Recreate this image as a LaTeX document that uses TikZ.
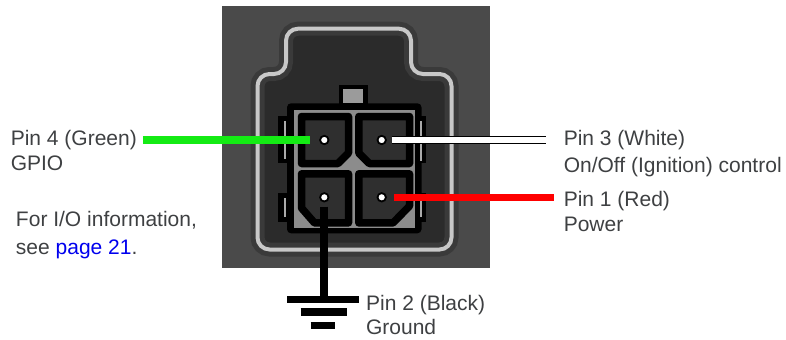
\documentclass[tikz,border=0pt]{standalone}
\usepackage{fontspec}
\setmainfont{Liberation Sans}

\definecolor{panel}{RGB}{74,74,74}
\definecolor{housing}{RGB}{43,43,43}
\definecolor{halo}{RGB}{58,58,58}
\definecolor{rim}{RGB}{200,200,200}
\definecolor{frame}{RGB}{140,140,140}
\definecolor{keygrey}{RGB}{155,155,155}
\definecolor{stripe}{RGB}{170,170,170}
\definecolor{cavity}{RGB}{47,47,47}
\definecolor{txt}{RGB}{62,64,66}
\definecolor{linkblue}{RGB}{0,0,238}
\definecolor{wiregreen}{RGB}{20,235,20}
\definecolor{wirered}{RGB}{255,0,0}

\begin{document}
\begin{tikzpicture}[x=0.5pt,y=-0.5pt,
  lbl/.style={text=txt,inner sep=0pt,anchor=base west,font=\fontsize{10.5}{12.6}\selectfont},
  pin/.style={circle,fill=white,draw=black,line width=0.9pt,minimum size=4.2pt,inner sep=0pt},
  cav/.style={fill=cavity,draw=black,line width=3.75pt,line join=round},
  stripeline/.style={draw=stripe,line width=1.3pt},
  wire/.style={line width=3.8pt},
  gndbar/.style={draw=black,line width=3.75pt}]

\useasboundingbox (0,0) rectangle (786,339);

%panel
\fill[panel] (222,6) rectangle (490,268);

%housing
\path[fill=housing,draw=halo,double=rim,double distance=2pt,line width=2.5pt,rounded corners=6pt]
  (257.5,160) -- (257.5,249.5) -- (451.5,249.5) -- (451.5,74) -- (411,74)
  -- (411,28.7) -- (286,28.7) -- (286,74) -- (257.5,74) -- cycle;

%body
\fill[black,rounded corners=2pt] (287,103.3) rectangle (421.5,233.3);
\fill[black] (278,116) rectangle (288,163);
\fill[black] (278,193) rectangle (288,222);
\fill[black] (420,116) rectangle (426,163);
\fill[black] (420,193) rectangle (426,222);
\path[stripeline] (285,121) -- (285,159);
\path[stripeline] (285,198) -- (285,217);
\path[stripeline] (421,121) -- (421,161);
\path[stripeline] (421,197) -- (421,217);

%key
\fill[black] (339,85) rectangle (368,106);
\fill[keygrey] (343.3,89.3) rectangle (363.3,102.7);

%frame
\fill[frame] (294.3,110) rectangle (415,228.3);

%cavities
\path[cav] (301.5,116.5) -- (348.5,116.5) -- (348.5,153) -- (338,163.5) -- (301.5,163.5) -- cycle;
\path[cav] (358.8,116.5) -- (409.5,116.5) -- (409.5,163.5) -- (369.3,163.5) -- (358.8,153) -- cycle;
\path[cav] (301.5,173.8) -- (348.5,173.8) -- (348.5,222.9) -- (314.5,222.9) -- (301.5,208) -- cycle;
\path[cav] (358.8,173.8) -- (409.5,173.8) -- (409.5,206) -- (393,222.9) -- (358.8,222.9) -- cycle;

%pins
\node[pin] (p4) at (324.3,140) {};
\node[pin] (p3) at (381.7,140) {};
\node[pin] (p2) at (324.3,197.3) {};
\node[pin] (p1) at (381.7,197.3) {};

%labels
\node[lbl] (l4) at (10.4,145) {Pin 4 (Green)};
\node[lbl] (g4) at ([yshift=-12.85pt]l4.base west) {GPIO};
\node[lbl] (io) at (15.6,226.7) {For I/O information,};
\node[lbl] (io2) at ([yshift=-13.65pt]io.base west) {see \textcolor{linkblue}{page 21}.};
\node[lbl] (l3) at (563.4,145.7) {Pin 3 (White)};
\node[lbl] (f3) at ([yshift=-13.5pt]l3.base west) {On/Off (Ignition) control};
\node[lbl] (l1) at (563.4,206) {Pin 1 (Red)};
\node[lbl] (f1) at ([yshift=-12.5pt]l1.base west) {Power};
\node[lbl] (l2) at (365.7,310.5) {Pin 2 (Black)};
\node[lbl] (f2) at ([yshift=-11.9pt]l2.base west) {Ground};

%wires
\draw[wire,wiregreen,shorten <=2.85pt,shorten >=4.6pt] (l4.east |- p4.west) -- (p4.west);
\draw[draw=black,double=white,double distance=3pt,line width=0.5pt,shorten <=2.45pt,shorten >=8.5pt] (p3.east) -- (p3.east -| l3.west);
\draw[wire,wirered,shorten <=3.6pt,shorten >=4.65pt] (p1.east) -- (p1.east -| l1.west);

%ground
\coordinate (gnd) at (324.3,296);
\draw[wire,black,line width=4pt,shorten <=2.15pt] (p2.south) -- (gnd);
\path[gndbar] (287,299.7) -- (359,299.7);
\path[gndbar] (300.7,312) -- (347.3,312);
\path[gndbar] (310.7,325.5) -- (335,325.5);

\end{tikzpicture}
\end{document}
